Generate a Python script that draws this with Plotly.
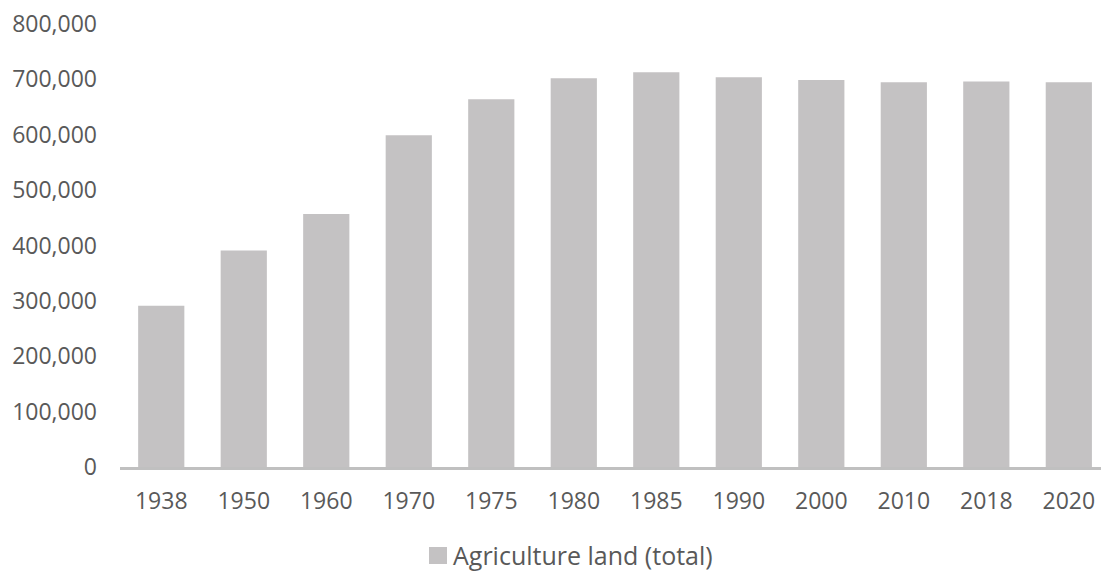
import plotly.graph_objects as go

years = ["1938", "1950", "1960", "1970", "1975", "1980", "1985", "1990", "2000", "2010", "2018", "2020"]
agri_land = [291000, 391000, 457000, 599000, 664000, 702000, 713000, 704000, 699000, 695000, 696000, 695000]
y_ticks = [0, 100000, 200000, 300000, 400000, 500000, 600000, 700000, 800000]
y_tick_text = ["0", "100,000", "200,000", "300,000", "400,000", "500,000", "600,000", "700,000", "800,000"]
series_name = "Agriculture land (total)"
bar_color = "#c4c2c3"

fig = go.Figure()
fig.add_trace(go.Bar(
    x=years, y=agri_land, name=series_name,
    marker=dict(color=bar_color, line=dict(width=0)),
    showlegend=False,
))

# legend drawn as square + text (pixel-positioned relative to plot area)
W, H = 1101, 574
fig.add_shape(type="rect", xref="paper", yref="paper",
              x0=(429 - 120) / 981, x1=(447 - 120) / 981,
              y0=(467 - 564) / 443, y1=(467 - 547) / 443,
              fillcolor=bar_color, line=dict(width=0))
fig.add_annotation(text=series_name, xref="paper", yref="paper",
                   x=(451 - 120) / 981, y=(467 - 555) / 443,
                   xanchor="left", yanchor="middle", showarrow=False,
                   font=dict(size=25, color="#595959", family="Open Sans"))

fig.update_layout(
    width=W, height=H,
    margin=dict(l=120, r=0, t=24, b=107),
    paper_bgcolor="white", plot_bgcolor="white",
    font=dict(family="Open Sans", size=23, color="#595959"),
    bargap=0.44,
    xaxis=dict(
        type="category", range=[-0.5, 11.39],
        showline=True, linecolor="#c0c0c0", linewidth=3,
        showgrid=False, ticks="", ticklabelstandoff=11,
    ),
    yaxis=dict(
        range=[0, 800000], tickvals=y_ticks, ticktext=y_tick_text,
        showgrid=False, zeroline=False, showline=False, ticks="",
        ticklabelstandoff=22,
    ),
)

fig.write_html("out.html")
